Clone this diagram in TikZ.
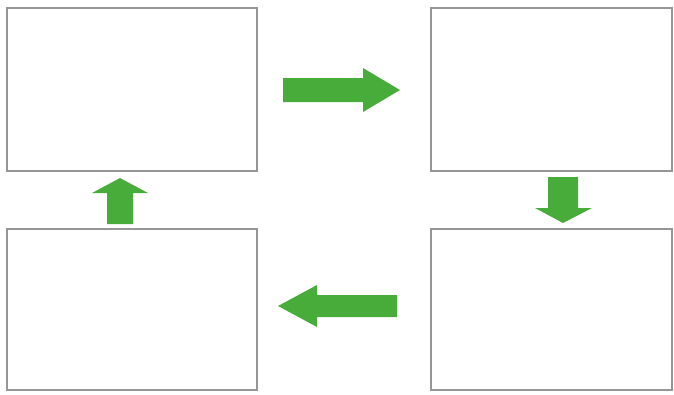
\documentclass[tikz,border=0pt]{standalone}
\usetikzlibrary{positioning}
\definecolor{boxgray}{RGB}{150,150,150}
\definecolor{arrowgreen}{RGB}{72,172,58}
\tikzset{
  panel/.style={draw=boxgray, line width=1.8pt, fill=white, inner sep=0pt},
  blockarrow/.style={fill=arrowgreen, draw=none}
}
\begin{document}
\begin{tikzpicture}[x=1pt,y=-1pt]
\useasboundingbox (0,0) rectangle (674,394);
\draw[panel] (7,8) rectangle (257,171) coordinate (tlbr);
\coordinate (tl) at (132,89.5);
\draw[panel] (431,8) rectangle (672,171);
\coordinate (tr) at (551.5,89.5);
\draw[panel] (7,229) rectangle (257,390);
\coordinate (bl) at (132,309.5);
\draw[panel] (431,229) rectangle (672,390);
\coordinate (br) at (551.5,309.5);
% right arrow
\fill[blockarrow] (283,78) -- (363,78) -- (363,68) -- (400,90) -- (363,112) -- (363,102) -- (283,102) -- cycle;
% up arrow
\fill[blockarrow] (107,224) -- (107,193) -- (92,193) -- (120,178) -- (148,193) -- (133,193) -- (133,224) -- cycle;
% down arrow
\fill[blockarrow] (548,177) -- (578,177) -- (578,208) -- (592,208) -- (563,223) -- (535,208) -- (548,208) -- cycle;
% left arrow
\fill[blockarrow] (397,295) -- (317,295) -- (317,285) -- (278,306) -- (317,327) -- (317,317) -- (397,317) -- cycle;
\end{tikzpicture}
\end{document}
